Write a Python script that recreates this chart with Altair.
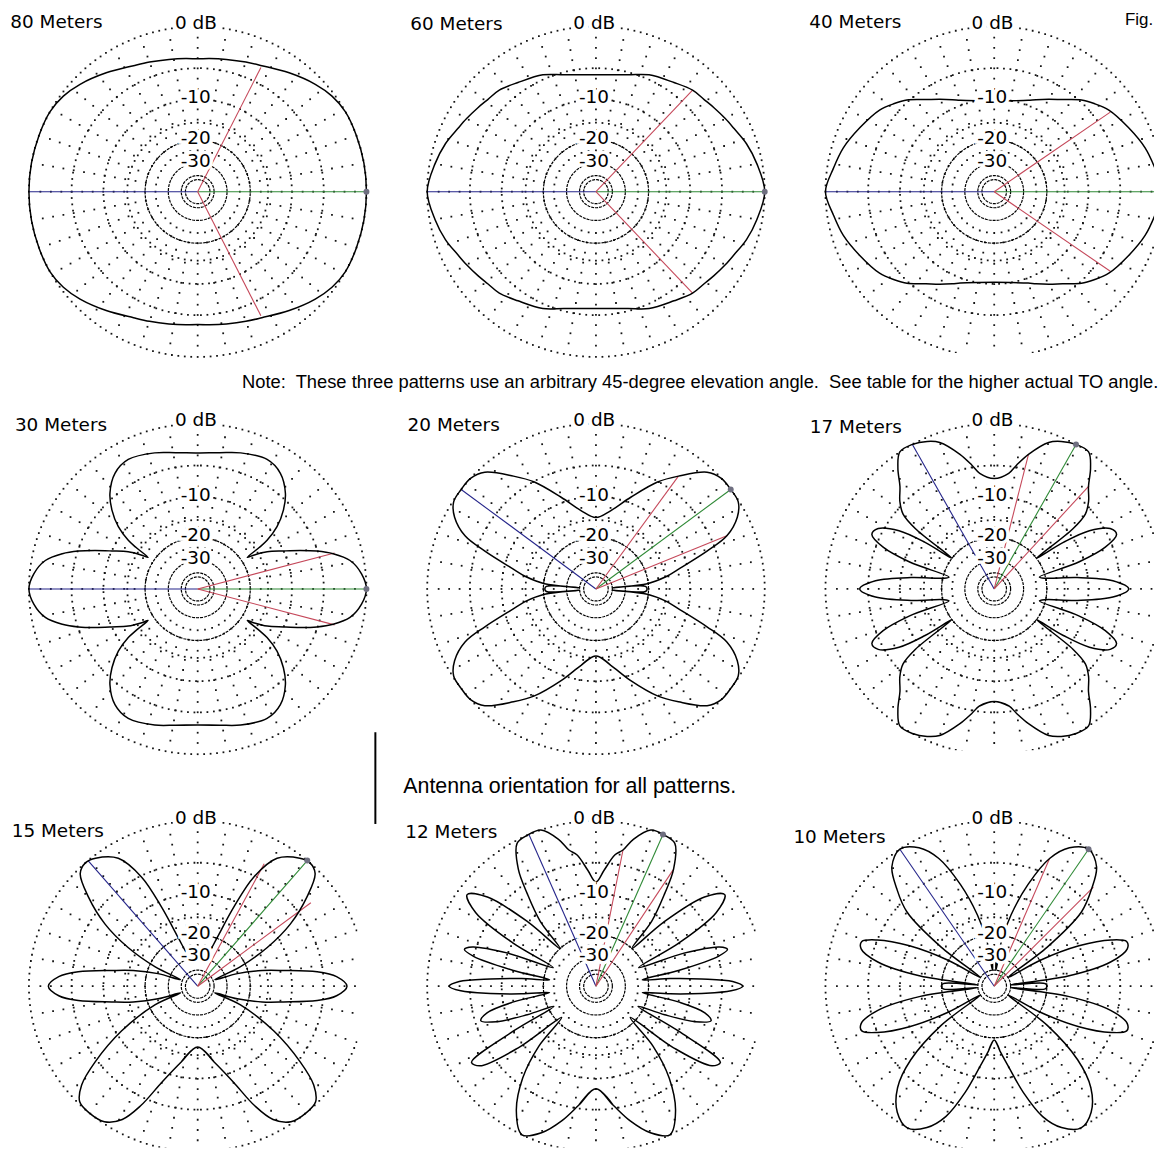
import math
import altair as alt
import pandas as pd

# ---------------- layout (unit circle = 0 dB) ----------------
XDOM = [-1.1239, 0.9469]
YDOM = [-0.976, 1.0964]
W, H = 351, 344

BANDS = ["80 Meters", "60 Meters", "40 Meters", "30 Meters", "20 Meters",
         "17 Meters", "15 Meters", "12 Meters", "10 Meters"]

# ---------------- pattern readings (azimuth deg, dB) ----------------
# UP = upper-right quadrant (0..90 deg), DN = lower-right quadrant (0..-90 deg)
A80 = [0, 10, 20, 29, 36, 43, 53, 63.5, 70, 78, 85, 90]
D80 = [0, 0, 0, 0, -0.28, -0.83, -1.8, -2.75, -3.1, -3.45, -3.65, -3.75]

A60 = [0, 10, 18, 25, 30, 36, 41, 47, 55, 66, 75, 90]
D60 = [0, -0.55, -1.1, -1.75, -2.1, -2.5, -2.8, -3.0, -3.7, -4.4, -5.35, -5.95]

A40 = [0, 8.5, 16.5, 26, 36, 42, 47, 54, 60, 66, 70, 80, 90]
D40 = [0, -0.65, -1.2, -2.1, -3.0, -3.9, -4.75, -6.4, -7.5, -8.5, -9.1, -10.0, -10.3]

A30 = [0, 5.4, 10.8, 14.9, 18, 21, 24.3, 28.6, 31.5, 33, 34.5, 35.6, 38.7, 43.2, 48.1, 55, 62.3, 72.8, 81, 90]
D30 = [0, -0.43, -1.45, -3.2, -5.1, -7.4, -10, -13, -16, -18, -14, -11.7, -8.7, -6.2, -4.3, -2.7, -2.1, -2.55, -3.1, -3.35]

A20 = [0, 3, 4.5, 6, 10, 14.3, 19.2, 22.5, 27.4, 32, 37, 42, 47, 54.4, 60.6, 69.6, 79.4, 90]
D20U = [-20.5, -21, -40, -20.3, -15, -11.3, -6.2, -3.0, -1.0, -0.1, 0, 0, -0.6, -3.0, -5.1, -9.0, -12.5, -14.4]
D20D = [-20.5, -21, -40, -20.3, -15, -11.3, -6.2, -3.0, -1.0, -0.1, 0, 0, -0.6, -3.0, -5.1, -9.0, -13.0, -15.5]

A17 = [0, 4, 8, 12, 15, 18, 21, 24.5, 28, 32, 34.5, 36.5, 38, 40, 43.4, 48, 52, 56, 61, 66, 70, 76, 80, 83, 90]
D17U = [-3.9, -6, -12, -20, -22, -11, -6, -3.9, -4.3, -7, -12, -20, -9, -6, -4.5, -3.1, -1.3, 0, 0, -0.4, -1.0, -3.0, -4.7, -6.0, -6.9]
D17D = [-3.9, -6, -12, -20, -22, -11, -6, -3.9, -4.3, -7, -12, -20, -9, -6, -4.5, -3.1, -1.3, 0, 0, -0.4, -1.0, -3.0, -4.6, -5.8, -6.6]

A15U = [0, 4, 7, 10.6, 14, 18, 21.5, 25, 29.6, 34.4, 39.8, 44.4, 48.4, 52, 58.7, 63.3, 65.9, 68.5, 72, 78, 84, 90]
D15U = [-2.1, -3.3, -5.8, -11.3, -16, -24, -38, -22, -12.8, -7.0, -2.95, -0.45, 0, -0.3, -1.7, -5.2, -11.1, -19.7, -27, -33, -30, -28]
A15D = [0, 4, 7, 10.6, 14, 18, 21.5, 24, 31, 37, 41, 45, 50, 56, 61, 65, 70, 78, 90]
D15D = [-2.1, -3.3, -5.8, -11.3, -16, -24, -38, -22, -11, -4.7, -1.6, -0.2, 0, -0.2, -1.4, -3.9, -8.3, -13, -17.2]

A12U = [0, 2, 4, 6, 8, 11, 14, 16, 18, 21, 24, 28, 32, 36, 40, 44, 47, 50, 54, 57, 61.6, 66, 71, 76, 79, 82, 86, 90]
D12U = [-2.4, -3.6, -8, -14, -22, -12, -5, -3.6, -4.5, -10, -22, -10, -3, -1.0, -3, -10, -20, -11.4, -6.3, -2.9, -0.3, 0, 0, -1.5, -3, -3.8, -6, -7.9]
A12D = [0, 2, 4, 6, 8, 11, 14, 17, 20, 23, 26, 29, 32, 35, 39, 43, 47, 52, 58, 64, 70, 76, 82, 90]
D12D = [-2.4, -3.8, -8, -14, -22, -12, -7, -5.8, -8, -14, -22, -10, -2.4, -3, -9, -22, -12, -6, -2, 0, -1, -3, -5.5, -8.2]

A10U = [0, 3, 5, 8, 12, 16, 19, 22, 26, 30, 33, 37, 41, 45.6, 50, 56, 62, 67, 72, 77, 81, 84, 87, 90]
D10U = [-20, -20.5, -40, -14, -6, -3.4, -3.2, -5, -10, -20, -40, -16, -6.5, -3.3, -1.0, 0, -0.9, -3, -7.5, -14, -22, -40, -30, -28]
A10D = [0, 3, 5, 8, 12, 16, 19, 22, 26, 30, 33, 37, 42, 47, 53, 59, 65, 70, 75, 80, 85, 90]
D10D = [-20, -20.5, -40, -14, -6, -3.4, -3.2, -5, -10, -20, -40, -16, -7, -3, -0.8, 0, -1, -3, -7, -12, -16, -19.3]

UP_ANG = [A80, A60, A40, A30, A20, A17, A15U, A12U, A10U]
UP_DB = [D80, D60, D40, D30, D20U, D17U, D15U, D12U, D10U]
DN_ANG = [A80, A60, A40, A30, A20, A17, A15D, A12D, A10D]
DN_DB = [D80, D60, D40, D30, D20D, D17D, D15D, D12D, D10D]

# max-gain (green), mirror (blue) and -3 dB beamwidth (red) directions
GREEN_ANG = [0, 0, 0, 0, 37, 61, 49.5, 66.6, 56]
RED_ANG_A = [63.5, 47, 35, 15, 54.4, 76, 62, 79, 67]
RED_ANG_B = [-63.5, -47, -35, -15, 22.5, 48, 37, 57, 45.6]
RED_DB = -3.0

RING_DOTTED = [0, -5, -10, -15]
RING_SOLID = [-20, -30, -40, -50]
RING_LABELS = ["-10", "-20", "-30"]
RING_LABEL_DB = [-10, -20, -30]

FONT_T = "DejaVu Sans"
FONT_N = "Liberation Sans"
FS_T = 18.5


def arrl(db):
    return 0.89 ** (-db / 2.0)


# ---------------- grid (dots) ----------------
g_ang, g_rr = [], []
for db in RING_DOTTED:
    r = arrl(db)
    n = int(round(2 * math.pi * r * 169.5 / 6.5))
    for k in range(n):
        g_ang.append(360.0 * k / n)
        g_rr.append(r)
for a in range(0, 360, 10):
    r = 0.25
    while r < 0.99:
        g_ang.append(a)
        g_rr.append(r)
        r += 0.062
grid_df = pd.DataFrame({"ang": g_ang, "rr": g_rr})

s_ring, s_i, s_ang, s_db = [], [], [], []
for db in RING_SOLID:
    for k in range(0, 73):
        s_ring.append(db)
        s_i.append(k)
        s_ang.append(k * 5)
        s_db.append(db)
solid_df = pd.DataFrame({"ring": s_ring, "i": s_i, "ang": s_ang, "db": s_db})

XS = alt.Scale(domain=XDOM, nice=False, zero=False)
YS = alt.Scale(domain=YDOM, nice=False, zero=False)


def X(f="px"):
    return alt.X(f"{f}:Q", scale=XS, axis=None)


def Y(f="py"):
    return alt.Y(f"{f}:Q", scale=YS, axis=None)


def polar(ch, rexpr):
    return ch.transform_calculate(rr=rexpr).transform_calculate(
        px="datum.rr*cos(datum.ang*PI/180)",
        py="datum.rr*sin(datum.ang*PI/180)")


DBR = "pow(0.89, -max(datum.db, -45)/2)"


def loop_df(up_a, up_d, dn_a, dn_d):
    right = [(-a, d) for a, d in zip(dn_a[::-1], dn_d[::-1])]
    right += list(zip(up_a[1:], up_d[1:]))
    left = [(180 - a, d) for a, d in right[-2:0:-1]]
    pts = right + left
    seq = [pts[-1]] + pts + pts[:2]
    return pd.DataFrame({"i": list(range(len(seq))),
                         "ang": [p[0] for p in seq],
                         "db": [p[1] for p in seq]})


def text_at(txt, x, y, size, font, align="left", baseline="middle", halo=False):
    base = alt.Chart(pd.DataFrame({"t": [txt]}))
    enc = dict(x=alt.X(datum=x, scale=XS, axis=None),
               y=alt.Y(datum=y, scale=YS, axis=None), text="t:N")
    layers = []
    if halo:
        layers.append(base.mark_text(font=font, fontSize=size, align=align, baseline=baseline,
                                     color="white", stroke="white", strokeWidth=8).encode(**enc))
    layers.append(base.mark_text(font=font, fontSize=size, align=align, baseline=baseline,
                                 color="black").encode(**enc))
    return layers


def panel(k, title_xy, clip=False, extras=()):
    pat = loop_df(UP_ANG[k], UP_DB[k], DN_ANG[k], DN_DB[k])
    g = GREEN_ANG[k]
    lines = pd.DataFrame({
        "kind": ["blue", "blue", "green", "green", "red1", "red1", "red2", "red2"],
        "e": [0, 1] * 4,
        "ang": [180 - g] * 2 + [g] * 2 + [RED_ANG_A[k]] * 2 + [RED_ANG_B[k]] * 2,
        "db": [0, 0, 0, 0, RED_DB, RED_DB, RED_DB, RED_DB],
    })
    marker = pd.DataFrame({"ang": [g], "db": [0.0]})
    lab = pd.DataFrame({"t": RING_LABELS, "db": RING_LABEL_DB, "ang": [90.0] * 3})

    grid = polar(alt.Chart(grid_df), "datum.rr").mark_square(
        size=3.2, color="#151515", opacity=1, clip=clip).encode(x=X(), y=Y())
    solid = polar(alt.Chart(solid_df), DBR).mark_line(
        color="#000", strokeWidth=1.2, strokeDash=[3, 1], clip=clip).encode(
        x=X(), y=Y(), detail="ring:N", order="i:Q")
    col = polar(alt.Chart(lines), "datum.e*" + DBR).mark_line(strokeWidth=1.1, clip=clip).encode(
        x=X(), y=Y(), detail="kind:N",
        color=alt.Color("kind:N", legend=None,
                        scale=alt.Scale(domain=["blue", "green", "red1", "red2"],
                                        range=["#25258a", "#2f8a36", "#c5485a", "#c5485a"])))
    patt = polar(alt.Chart(pat), DBR).mark_line(
        interpolate="catmull-rom", color="black", strokeWidth=1.5, clip=clip).encode(
        x=X(), y=Y(), order="i:Q")
    mk = polar(alt.Chart(marker), DBR).mark_circle(
        size=36, color="#6f6f80", opacity=1, clip=clip).encode(x=X(), y=Y())
    labs_halo = polar(alt.Chart(lab), DBR).mark_text(
        font=FONT_T, fontSize=FS_T, color="white", stroke="white", strokeWidth=7,
        baseline="middle", dx=-2, dy=-2).encode(x=X(), y=Y(), text="t:N")
    labs = polar(alt.Chart(lab), DBR).mark_text(
        font=FONT_T, fontSize=FS_T, color="black", baseline="middle", dx=-2, dy=-2).encode(
        x=X(), y=Y(), text="t:N")

    layers = [grid, solid, col, patt, mk, labs_halo, labs]
    layers += text_at("0 dB", -0.01, 1.02, FS_T, FONT_T, align="center", halo=True)
    layers += text_at(BANDS[k], title_xy[0], title_xy[1], FS_T, FONT_T)
    for e in extras:
        layers += e
    return alt.layer(*layers).properties(width=W, height=H)


note = ("Note:\u00a0 These three patterns use an arbitrary 45-degree elevation angle.\u00a0 "
        "See table for the higher actual TO angle.")

antenna_rule = [alt.Chart(pd.DataFrame({"t": [0]})).mark_rule(color="black", strokeWidth=2).encode(
    x=alt.X(datum=-1.307, scale=XS, axis=None),
    y=alt.Y(datum=-0.867, scale=YS, axis=None),
    y2=alt.Y2(datum=-1.422))]

p = [
    panel(0, (-1.11, 1.024)),
    panel(1, (-1.10, 1.012), extras=[text_at(note, -2.097, -1.151, 18.4, FONT_N)]),
    panel(2, (-1.096, 1.024), clip=True,
          extras=[text_at("Fig.", 0.775, 1.085, 17, FONT_N, baseline="top")]),
    panel(3, (-1.083, 0.994)),
    panel(4, (-1.116, 0.994), extras=[antenna_rule,
                                      text_at("Antenna orientation for all patterns.", -1.142, -1.199, 21.5, FONT_N)]),
    panel(5, (-1.093, 0.978), clip=True),
    panel(6, (-1.102, 0.942), clip=True),
    panel(7, (-1.13, 0.932), clip=True),
    panel(8, (-1.19, 0.904), clip=True),
]

chart = alt.concat(*p, columns=3, spacing={"row": 55, "column": 49}, bounds="flush").properties(
    padding=0, background="white").configure_view(stroke=None)

chart.save("out.html", embed_options={"renderer": "svg", "actions": False})
